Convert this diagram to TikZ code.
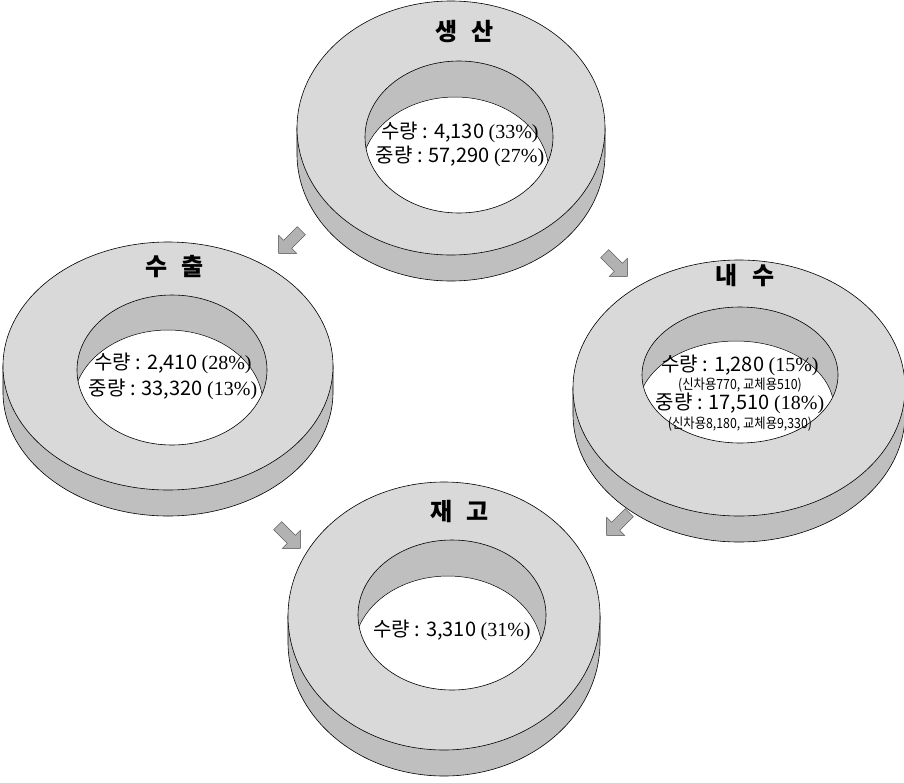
\documentclass[tikz,border=0pt]{standalone}
\usepackage{fontspec}
\setmainfont{Noto Sans CJK KR}
\newfontfamily\numserif{Liberation Serif}
\newfontfamily\krnarrow{Noto Sans CJK KR}[FakeStretch=0.88]
\usetikzlibrary{shapes.arrows}

\begin{document}
\begin{tikzpicture}[x=1pt,y=1pt]
\tikzstyle{every node}+=[inner sep=0pt]
\tikzstyle{face}=[draw=black, fill=gray!30, line width=0.6pt]
\tikzstyle{side}=[draw=black, fill=gray!50, line width=0.6pt]
\tikzstyle{wall}=[fill=gray!50]
\tikzstyle{hole}=[draw=black, fill=white, line width=0.5pt]
\tikzstyle{title}=[font=\bfseries\fontsize{24}{24}\selectfont]
\tikzstyle{amount}=[font=\fontsize{20}{20}\selectfont]
\tikzstyle{detail}=[font=\krnarrow\fontsize{14}{14}\selectfont]
\tikzstyle{flow}=[single arrow, draw=black!75, fill=gray!60, minimum height=32pt, minimum width=23pt, inner sep=5.5pt]
\useasboundingbox (0,0) rectangle (904,-782);
\draw [side] (297,-128) -- (297,-154) arc (180:360:154 and 127) -- (605,-128) -- cycle;
\draw [face] (451,-128) ellipse (154 and 127);
\fill [wall] (459,-137) ellipse (94 and 76);
\begin{scope}
\clip (459,-137) ellipse (94 and 76);
\draw [hole] (455,-173) ellipse (94 and 76);
\end{scope}
\draw [black, line width=0.6pt] (459,-137) ellipse (94 and 76);
\draw (465,-32) node [title] (prod) {생\hspace{14pt}산};
\draw (460,-132) node [amount] (prodn) {수량 : 4,130 {\numserif(33\%)}};
\draw (460,-156) node [amount] (prodw) {중량 : 57,290 {\numserif(27\%)}};
\draw [side] (3,-366) -- (3,-392) arc (180:360:165 and 124) -- (333,-366) -- cycle;
\draw [face] (168,-366) ellipse (165 and 124);
\fill [wall] (172,-370) ellipse (95 and 75);
\begin{scope}
\clip (172,-370) ellipse (95 and 75);
\draw [hole] (168,-405) ellipse (95 and 75);
\end{scope}
\draw [black, line width=0.6pt] (172,-370) ellipse (95 and 75);
\draw (175,-267) node [title] (expo) {수\hspace{14pt}출};
\draw (173,-363) node [amount] (expon) {수량 : 2,410 {\numserif(28\%)}};
\draw (173,-389) node [amount] (expow) {중량 : 33,320 {\numserif(13\%)}};
\draw [side] (573,-388) -- (573,-414) arc (180:360:166 and 128) -- (905,-388) -- cycle;
\draw [face] (739,-388) ellipse (166 and 128);
\fill [wall] (740,-375) ellipse (98 and 68);
\begin{scope}
\clip (740,-375) ellipse (98 and 68);
\draw [hole] (736,-409) ellipse (98 and 68);
\end{scope}
\draw [black, line width=0.6pt] (740,-375) ellipse (98 and 68);
\draw (745,-276) node [title] (dome) {내\hspace{14pt}수};
\draw (740,-365) node [amount] (domen) {수량 : 1,280 {\numserif(15\%)}};
\draw (740,-385) node [detail] (domena) {(신차용770, 교체용510)};
\draw (740,-403) node [amount] (domew) {중량 : 17,510 {\numserif(18\%)}};
\draw (740,-424) node [detail] (domewa) {(신차용8,180, 교체용9,330)};
\draw [side] (288,-616) -- (288,-642) arc (180:360:156 and 134) -- (600,-616) -- cycle;
\draw [face] (444,-616) ellipse (156 and 134);
\fill [wall] (452,-615) ellipse (94 and 75);
\begin{scope}
\clip (452,-615) ellipse (94 and 75);
\draw [hole] (448,-651) ellipse (94 and 75);
\end{scope}
\draw [black, line width=0.6pt] (452,-615) ellipse (94 and 75);
\draw (460,-511) node [title] (stock) {재\hspace{14pt}고};
\draw (452,-630) node [amount] (stockn) {수량 : 3,310 {\numserif(31\%)}};
\draw (292,-240) node [flow, rotate=225] (a1) {};
\draw (614,-263) node [flow, rotate=-45] (a2) {};
\draw (287,-535) node [flow, rotate=-45] (a3) {};
\draw (620,-522) node [flow, rotate=225] (a4) {};
\end{tikzpicture}
\end{document}
